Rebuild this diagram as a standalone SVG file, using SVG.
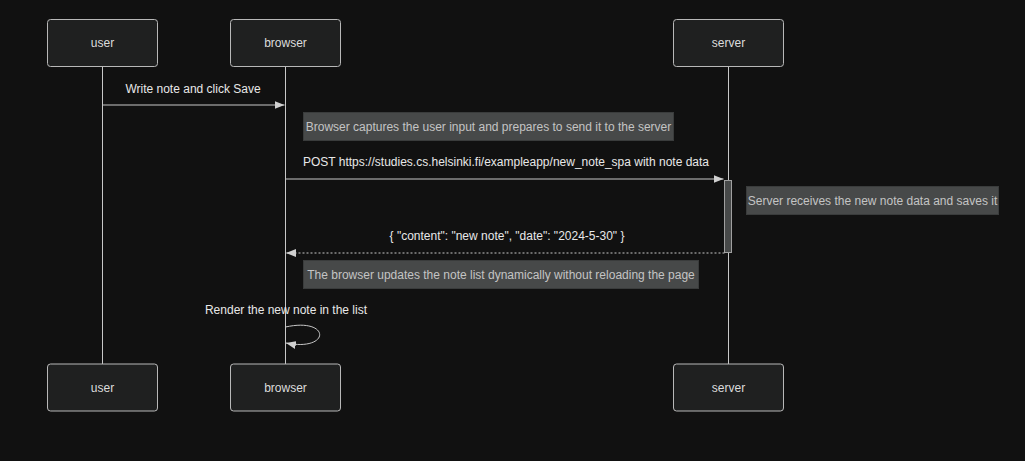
<svg xmlns="http://www.w3.org/2000/svg" width="1025" height="461" viewBox="0 0 1025 461">
  <defs>
    <style>
      .bg { fill: #111111; }
      .actor rect { fill: #1f2020; stroke: #b8b8b8; stroke-width: 1; }
      .actor text { fill: #dcdcdc; font-family: "Liberation Sans", Arial, sans-serif; font-size: 12px; text-anchor: middle; dominant-baseline: central; }
      .lifeline { stroke: #c8c8c8; stroke-width: 1; }
      .msg { stroke: #c8c8c8; stroke-width: 1; fill: none; }
      .dotted { stroke-dasharray: 2 2; }
      .msg-label { fill: #e8e8e8; font-family: "Liberation Sans", Arial, sans-serif; font-size: 12px; text-anchor: middle; dominant-baseline: central; }
      .note rect { fill: #474949; stroke: #3a3c3c; stroke-width: 1; }
      .note text { fill: #c4c4c4; font-family: "Liberation Sans", Arial, sans-serif; font-size: 12px; text-anchor: middle; dominant-baseline: central; }
      .activation { fill: #474949; stroke: #a0a0a0; stroke-width: 1; }
    </style>
    <marker id="arrowhead" viewBox="0 0 10 8" refX="10" refY="4" markerWidth="10" markerHeight="8" markerUnits="userSpaceOnUse" orient="auto">
      <path d="M0,0 L10,4 L0,8 z" fill="#d0d0d0"/>
    </marker>
  </defs>

  <rect class="bg" x="0" y="0" width="1025" height="461"/>

  <!-- lifelines -->
  <g id="lifelines">
    <line class="lifeline" x1="102.5" y1="66.5" x2="102.5" y2="364"/>
    <line class="lifeline" x1="285.5" y1="66.5" x2="285.5" y2="364"/>
    <line class="lifeline" x1="728.5" y1="66.5" x2="728.5" y2="364"/>
  </g>

  <!-- actors, top -->
  <g id="actor-user-top" class="actor">
    <rect x="47.5" y="19.5" width="110" height="47" rx="3"/>
    <text x="102.5" y="43">user</text>
  </g>
  <g id="actor-browser-top" class="actor">
    <rect x="230.5" y="19.5" width="110" height="47" rx="3"/>
    <text x="285.5" y="43">browser</text>
  </g>
  <g id="actor-server-top" class="actor">
    <rect x="673.5" y="19.5" width="110" height="47" rx="3"/>
    <text x="728.5" y="43">server</text>
  </g>

  <!-- activation on server -->
  <g id="activation-server">
    <rect class="activation" x="724.5" y="180.5" width="7" height="72"/>
  </g>

  <!-- notes -->
  <g id="note-capture" class="note">
    <rect x="303.5" y="112.5" width="370" height="28"/>
    <text x="488.5" y="127">Browser captures the user input and prepares to send it to the server</text>
  </g>
  <g id="note-server-saves" class="note">
    <rect x="746.5" y="186.5" width="252" height="28"/>
    <text x="872.5" y="201">Server receives the new note data and saves it</text>
  </g>
  <g id="note-update" class="note">
    <rect x="303.5" y="260.5" width="395" height="28"/>
    <text x="501" y="275">The browser updates the note list dynamically without reloading the page</text>
  </g>

  <!-- messages -->
  <g id="connectors">
    <line class="msg" x1="102.5" y1="105" x2="284.5" y2="105" marker-end="url(#arrowhead)"/>
    <text class="msg-label" x="193" y="89">Write note and click Save</text>

    <line class="msg" x1="285.5" y1="179" x2="723.5" y2="179" marker-end="url(#arrowhead)"/>
    <text class="msg-label" x="506" y="162">POST https://studies.cs.helsinki.fi/exampleapp/new_note_spa with note data</text>

    <line class="msg dotted" x1="724.5" y1="253" x2="286" y2="253" marker-end="url(#arrowhead)"/>
    <text class="msg-label" x="507" y="236">{ "content": "new note", "date": "2024-5-30" }</text>

    <path class="msg" d="M285.5,327 C331,317 331,352 286,343" marker-end="url(#arrowhead)"/>
    <text class="msg-label" x="286" y="310">Render the new note in the list</text>
  </g>

  <!-- actors, bottom -->
  <g id="actor-user-bottom" class="actor">
    <rect x="47.5" y="364" width="110" height="47" rx="3"/>
    <text x="102.5" y="388">user</text>
  </g>
  <g id="actor-browser-bottom" class="actor">
    <rect x="230.5" y="364" width="110" height="47" rx="3"/>
    <text x="285.5" y="388">browser</text>
  </g>
  <g id="actor-server-bottom" class="actor">
    <rect x="673.5" y="364" width="110" height="47" rx="3"/>
    <text x="728.5" y="388">server</text>
  </g>
</svg>
